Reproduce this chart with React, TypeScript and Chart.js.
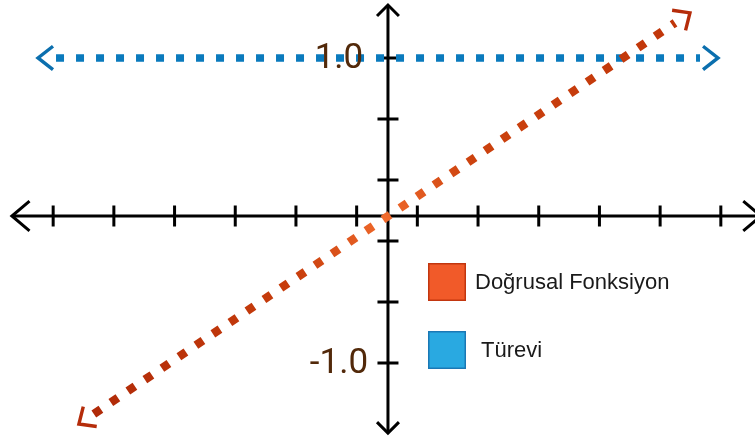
import { useEffect, useRef } from 'react';
import { Chart, registerables } from 'chart.js';

Chart.register(...registerables);

// ---- data ----
const seriesLabels = ['Doğrusal Fonksiyon', ' Türevi'];
const linearX = [-4.83, 4.745];
const linearY = [-1.334, 1.23];
const derivativeX = [-5.453, 5.157];
const derivativeY = [1.0, 1.0];
const xTickValues = [-5.5, -4.5, -3.5, -2.5, -1.5, -0.5, 0.5, 1.5, 2.5, 3.5, 4.5, 5.5];
const yTickValues = [1.0, 0.6, 0.2, -0.2, -0.6, -1.0];
const yTickLabels = ['1.0', '', '', '', '', '-1.0'];

// ---- style ----
const X_MIN = -6.376;
const X_MAX = 6.063;
const Y_MIN = -1.498;
const Y_MAX = 1.38;
const X_AXIS_AT_Y = -0.036;
const Y_AXIS_AT_X = 0.016;
const X_AXIS_EXTENT = [-6.18, 6.16];
const Y_AXIS_EXTENT = [-1.459, 1.347];
const legendFill = ['#f15a29', '#29a9e1'];
const legendBorder = ['#c2360f', '#1a78b5'];
const arrowColors = ['#b52c0a', '#0b6fae'];

function drawChevron(
  ctx: CanvasRenderingContext2D,
  tx: number,
  ty: number,
  dx: number,
  dy: number,
  len: number,
  angleDeg: number
) {
  const back = Math.atan2(-dy, -dx);
  const a = (angleDeg * Math.PI) / 180;
  ctx.beginPath();
  ctx.moveTo(tx + len * Math.cos(back + a), ty + len * Math.sin(back + a));
  ctx.lineTo(tx, ty);
  ctx.lineTo(tx + len * Math.cos(back - a), ty + len * Math.sin(back - a));
  ctx.stroke();
}

const crossAxesPlugin = {
  id: 'crossAxes',
  beforeDatasetsDraw(chart: any) {
    const { ctx } = chart;
    const xs = chart.scales.x;
    const ys = chart.scales.y;
    const ox = xs.getPixelForValue(Y_AXIS_AT_X);
    const oy = ys.getPixelForValue(X_AXIS_AT_Y);
    ctx.save();
    ctx.strokeStyle = '#000';
    ctx.lineWidth = 3;
    ctx.lineCap = 'butt';
    ctx.lineJoin = 'miter';
    const xl = xs.getPixelForValue(X_AXIS_EXTENT[0]);
    const xr = xs.getPixelForValue(X_AXIS_EXTENT[1]);
    const yt = ys.getPixelForValue(Y_AXIS_EXTENT[1]);
    const yb = ys.getPixelForValue(Y_AXIS_EXTENT[0]);
    ctx.beginPath();
    ctx.moveTo(xl, oy);
    ctx.lineTo(xr, oy);
    ctx.moveTo(ox, yt);
    ctx.lineTo(ox, yb);
    ctx.stroke();
    // ticks
    ctx.beginPath();
    xTickValues.forEach((v) => {
      const px = xs.getPixelForValue(v);
      ctx.moveTo(px, oy - 10.5);
      ctx.lineTo(px, oy + 10.5);
    });
    yTickValues.forEach((v) => {
      const py = ys.getPixelForValue(v);
      ctx.moveTo(ox - 10.5, py);
      ctx.lineTo(ox + 10.5, py);
    });
    ctx.stroke();
    // axis arrows
    drawChevron(ctx, xl, oy, -1, 0, 23, 40);
    drawChevron(ctx, xr, oy, 1, 0, 23, 40);
    drawChevron(ctx, ox, yt, 0, -1, 15.5, 45);
    drawChevron(ctx, ox, yb, 0, 1, 15.5, 45);
    ctx.restore();
  },
  afterDatasetsDraw(chart: any) {
    const { ctx } = chart;
    const xs = chart.scales.x;
    const ys = chart.scales.y;
    const ox = xs.getPixelForValue(Y_AXIS_AT_X);
    ctx.save();
    // data line arrows
    chart.data.datasets.forEach((ds: any, i: number) => {
      const meta = chart.getDatasetMeta(i);
      const p0 = meta.data[0];
      const p1 = meta.data[meta.data.length - 1];
      const dx = p1.x - p0.x;
      const dy = p1.y - p0.y;
      const d = Math.hypot(dx, dy);
      const ux = dx / d;
      const uy = dy / d;
      const gap = 18;
      ctx.strokeStyle = arrowColors[i];
      ctx.lineWidth = 3.4;
      ctx.lineCap = 'butt';
      ctx.lineJoin = 'miter';
      const len = i === 0 ? 18 : 19;
      const ang = i === 0 ? 42 : 38;
      drawChevron(ctx, p1.x + ux * gap, p1.y + uy * gap, ux, uy, len, ang);
      drawChevron(ctx, p0.x - ux * gap, p0.y - uy * gap, -ux, -uy, len, ang);
    });
    // y tick labels
    ctx.fillStyle = '#52290a';
    ctx.font = '400 35px Roboto';
    ctx.textAlign = 'center';
    ctx.textBaseline = 'middle';
    yTickValues.forEach((v, i) => {
      const lbl = yTickLabels[i];
      if (!lbl) return;
      ctx.fillText(lbl, ox - 49, ys.getPixelForValue(v) + 1);
    });
    ctx.restore();
  },
  afterDraw(chart: any) {
    const { ctx } = chart;
    ctx.save();
    const bx = 428;
    const by = 263;
    const size = 38;
    const step = 68;
    seriesLabels.forEach((lbl, i) => {
      const top = by + i * step;
      ctx.fillStyle = legendFill[i];
      ctx.fillRect(bx, top, size, size);
      ctx.strokeStyle = legendBorder[i];
      ctx.lineWidth = 1.5;
      ctx.strokeRect(bx + 0.75, top + 0.75, size - 1.5, size - 1.5);
      ctx.fillStyle = '#1a1a1a';
      ctx.font = '22px "Liberation Sans", Arial, sans-serif';
      ctx.textAlign = 'left';
      ctx.textBaseline = 'middle';
      ctx.fillText(lbl, bx + 47, top + size / 2 + 1);
    });
    ctx.restore();
  },
};

export default function App() {
  const canvasRef = useRef<HTMLCanvasElement | null>(null);

  useEffect(() => {
    if (!canvasRef.current) return;
    const chart = new Chart(canvasRef.current, {
      type: 'scatter',
      data: {
        datasets: [
          {
            label: seriesLabels[0],
            data: linearX.map((x, i) => ({ x, y: linearY[i] })),
            showLine: true,
            borderColor: (c: any) => {
              const ch = c.chart;
              const xs = ch.scales?.x;
              const ys = ch.scales?.y;
              if (!xs || !ys || !ch.chartArea) return '#c4380c';
              const x0 = xs.getPixelForValue(linearX[0]);
              const y0 = ys.getPixelForValue(linearY[0]);
              const x1 = xs.getPixelForValue(linearX[1]);
              const y1 = ys.getPixelForValue(linearY[1]);
              if (![x0, y0, x1, y1].every((v) => Number.isFinite(v))) return '#c4380c';
              const g = ch.ctx.createLinearGradient(x0, y0, x1, y1);
              g.addColorStop(0, '#b02a08');
              g.addColorStop(0.35, '#c83e0c');
              g.addColorStop(0.5, '#f06a2c');
              g.addColorStop(0.65, '#cc420e');
              g.addColorStop(1, '#c0360a');
              return g;
            },
            borderWidth: 8.5,
            borderDash: [8.5, 12],
            borderCapStyle: 'butt',
            pointRadius: 0,
            pointHoverRadius: 0,
          },
          {
            label: seriesLabels[1],
            data: derivativeX.map((x, i) => ({ x, y: derivativeY[i] })),
            showLine: true,
            borderColor: '#0a7abd',
            borderWidth: 7.5,
            borderDash: [8, 12],
            borderCapStyle: 'butt',
            pointRadius: 0,
            pointHoverRadius: 0,
          },
        ],
      },
      options: {
        animation: false,
        responsive: false,
        maintainAspectRatio: false,
        events: [],
        clip: false as any,
        layout: { padding: 0 },
        plugins: {
          legend: { display: false },
          tooltip: { enabled: false },
        },
        scales: {
          x: { type: 'linear', min: X_MIN, max: X_MAX, display: false },
          y: { type: 'linear', min: Y_MIN, max: Y_MAX, display: false },
        },
      },
      plugins: [crossAxesPlugin],
    });
    return () => chart.destroy();
  }, []);

  return (
    <div style={{ position: 'fixed', left: 0, top: 0, width: 755, height: 439, background: '#fff' }}>
      <canvas ref={canvasRef} width={755} height={439} />
    </div>
  );
}
